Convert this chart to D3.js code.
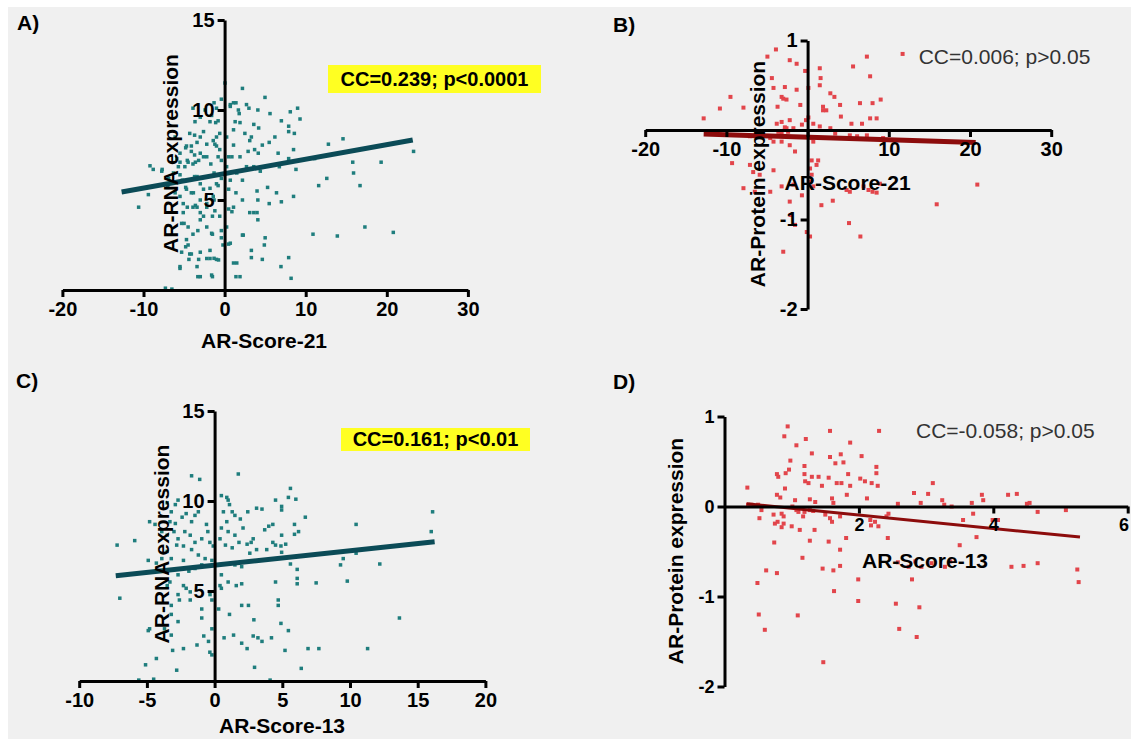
<!DOCTYPE html>
<html><head><meta charset="utf-8">
<script src="https://cdn.jsdelivr.net/npm/d3@7"></script>
<style>body{margin:0;background:#fff}svg{display:block}</style>
</head><body>
<svg id="c" width="1131" height="739"></svg>
<script>
// ---------- DATA ----------
// Panel A: AR-Score-21 vs AR-RNA expression
const pointsA = [
[0.05,11.5],[2.2,11.2],[1.1,10.4],[1.7,10.0],[2.7,10.3],[0.7,10.2],[-1.0,10.1],[-1.6,9.7],[-3.0,9.6],[-3.65,9.35],[-1.8,9.35],[-0.8,9.4],[1.3,9.35],[1.9,9.3],[3.6,9.2],[2.5,8.7],[3.3,8.5],[1.1,8.9],[0.25,8.5],[-1.0,8.5],[-1.4,8.3],[-1.2,8.1],[-1.0,8.0],[-0.6,7.8],[-2.2,8.1],[-3.0,8.5],[-3.4,8.2],[-4.3,8.7],[-4.7,8.0],[-4.1,7.7],[-3.0,7.6],[-2.2,7.4],[-3.2,7.2],[-3.6,7.1],[-4.5,7.1],[-4.9,6.85],[-5.5,7.1],[-5.9,7.3],[-9.2,6.9],[-8.8,6.7],[-7.75,6.6],[-6.9,6.2],[-9.4,5.3],[-10.6,4.6],[-5.5,6.4],[-4.3,6.1],[-3.4,6.3],[-3.0,5.9],[-2.6,5.6],[-3.85,5.4],[-4.7,5.6],[-5.5,5.2],[-5.1,4.8],[-3.6,4.7],[-3.4,4.6],[-2.2,4.8],[-1.2,4.4],[-0.6,4.1],[-1.4,5.2],[-1.8,5.65],[-1.0,5.9],[-0.4,6.2],[-5.1,4.3],[-5.3,3.7],[-4.5,3.5],[-3.0,3.9],[-2.2,3.5],[-1.6,3.15],[-4.7,2.8],[-4.5,2.5],[-5.3,2.1],[-4.3,2.0],[-4.1,2.0],[-3.0,2.1],[-1.8,2.2],[-1.0,1.7],[-5.5,1.2],[-3.4,1.3],[-3.2,1.7],[-2.2,1.75],[-1.8,1.75],[-3.0,0.74],[-1.6,0.83],[0.5,2.55],[0.7,2.6],[0.25,3.5],[0.9,4.35],[1.5,1.5],[1.9,0.74],[2.3,3.05],[1.1,4.6],[0.7,6.1],[1.5,6.5],[2.7,6.85],[3.6,6.85],[0.9,7.4],[1.9,7.4],[2.9,7.7],[3.7,7.8],[1.1,8.05],[0.5,7.4],[0.25,6.85],
[4.98,10.7],[9.0,10.1],[9.3,9.5],[14.6,8.4],[23.3,7.7],[19.3,7.1],[15.8,7.1],[15.9,6.5],[16.7,5.8],[11.6,5.8],[12.6,6.2],[12.8,8.1],[17.3,3.5],[20.8,3.2],[10.9,3.1],[13.9,3.0],[8.2,0.65],[6.95,1.3],[7.9,1.8],[4.65,1.7],[4.9,2.5],[5.0,2.9],[8.8,6.7],[8.5,5.2],[7.0,4.9],[5.5,4.8],[6.4,5.4],[5.3,5.7],[4.1,5.0],[4.0,4.3],[4.1,3.9],[6.6,7.6],[5.5,8.2],[7.9,9.1],[7.9,8.8],[7.0,9.4],[8.1,9.9],[5.6,9.8],[4.1,10.0],[4.65,8.05],[6.2,8.5],[8.5,7.8],[8.6,8.7],[6.75,6.85],[7.9,7.3],[4.15,7.6],[4.0,5.5],[4.4,6.6],[3.3,2.2],[3.3,1.8],[3.6,4.3],[3.1,4.3],[2.2,5.0],[1.4,5.4],[0.5,5.6],[0.5,4.5],[2.2,6.1],[11.1,7.3],[3.1,8.3],[4.2,9.0],[3.0,10.1],[1.8,9.8],[1.4,10.4],[0.7,10.3],[-0.4,10.6],[-1.3,10.4],[-3.9,10.1],[-2.4,10.0],[-1.1,9.3],[-0.6,8.7],[-2.6,8.8],[-3.7,8.6],[-5.5,7.6],[-4.8,7.9],[-4.1,8.0],[-3.7,7.5],[-2.6,7.4],[-1.7,7.0],[-0.8,7.4],[-0.4,7.2],[-3.9,7.0],[-4.6,7.2],[-5.7,6.85],[-6.3,6.5],[-7.0,5.7],[-6.1,5.4],[-5.2,6.1],[-3.7,6.3],[-4.1,5.4],[-4.8,5.7],[-1.3,6.5],[-0.8,5.8],[-1.3,5.0],[-1.5,4.1],[-2.2,4.6],[-3.0,5.0],[-3.9,4.6],[-3.0,4.3],[-3.3,3.3],[-3.9,3.1],[-2.6,4.1],[-4.6,4.6],[-5.0,3.7],[-0.4,2.9],[-0.2,2.5],[-0.4,3.3],[-1.5,3.1],[-5.5,1.3],[-4.8,2.4],[-4.4,1.7],[-3.3,0.74],[-1.5,0.74],[-1.3,1.76],[-0.75,1.67],[1.1,1.5],[1.4,0.74],[2.2,3.05],[-7.7,6.7],[-6.1,8.5],[-7.3,0.1],[-6.5,0.05]
];
const regA = [[-12.7,5.44],[23.2,8.33]];

// Panel B: AR-Score-21 vs AR-Protein expression
const pointsB = [
[-3.9,0.9],[-4.95,0.82],[-2.2,0.78],[-1.35,0.74],[1.5,0.69],[-0.3,0.66],[5.6,0.71],[7.3,0.82],[11.7,0.85],[-4.4,0.58],[-2.8,0.48],[-4.2,0.47],[-1.35,0.45],[0.1,0.47],[1.5,0.5],[1.6,0.58],[7.7,0.6],[2.8,0.41],[3.3,0.37],[-3.2,0.37],[-3.0,0.35],[-2.6,0.34],[-3.7,0.26],[-0.9,0.28],[1.9,0.26],[2.3,0.22],[1.9,0.22],[4.0,0.28],[6.45,0.3],[8.0,0.3],[9.0,0.34],[-9.5,0.37],[-10.8,0.24],[-7.9,0.25],[-12.8,0.13],[4.1,0.15],[0.1,0.14],[-0.2,0.11],[-2.2,0.11],[-3.2,0.09],[-3.8,0.07],[-2.8,0.03],[-2.6,0.02],[-2.8,0.0],[-2.4,-0.02],[-3.6,-0.02],[-3.2,-0.04],[-1.75,0.02],[-0.7,0.06],[0.7,0.07],[1.5,0.04],[2.8,0.02],[3.4,-0.04],[5.4,0.07],[6.7,0.07],[7.7,0.13],[8.5,0.13],[5.2,-0.06],[6.1,-0.07],[7.3,-0.06],[9.3,-0.09],[-7.1,-0.07],[-5.9,-0.06],[-4.6,-0.09],[-4.2,-0.13],[-3.2,-0.13],[-2.2,-0.17],[0.5,-0.09],[0.7,-0.13],[-9.3,-0.37],[-7.1,-0.39],[-6.7,-0.47],[-5.9,-0.5],[-4.2,-0.45],[-1.55,-0.24],[0.5,-0.34],[1.3,-0.34],[1.1,-0.39],[0.3,-0.43],[0.5,-0.5],[-7.9,-0.65],[-6.5,-0.69],[-4.6,-0.69],[-3.2,-0.63],[-1.75,-0.61],[-0.7,-0.73],[0.3,-0.58],[0.7,-0.63],[1.7,-0.84],[3.1,-0.79],[4.8,-0.67],[5.2,-0.69],[6.9,-0.63],[7.5,-0.67],[8.0,-0.69],[-2.1,-0.95],[-1.55,-1.06],[-0.1,-1.14],[0.3,-1.19],[5.1,-1.04],[6.5,-1.19],[-3.0,-1.36],[-2.2,-0.8],[20.9,-0.61],[15.9,-0.83],[8.9,-0.6],[8.5,-0.7]
];
const regB = [[-12.8,-0.045],[20.7,-0.14]];

// Panel C: AR-Score-13 vs AR-RNA expression
const pointsC = [
[-1.7,11.4],[-1.1,11.2],[1.75,11.5],[-7.2,7.55],[-5.9,7.8],[-7.0,4.6],[-4.8,8.85],[-4.4,8.7],[-3.5,9.9],[-2.9,9.8],[-2.7,10.05],[-3.2,9.4],[-2.4,9.1],[-2.1,9.3],[-1.7,8.85],[-1.45,9.2],[-1.2,9.4],[-3.3,8.85],[-2.9,8.75],[-3.9,8.3],[-3.5,8.1],[-3.0,8.3],[-2.7,7.9],[-2.2,8.3],[-1.8,8.1],[-1.45,7.7],[-0.95,7.9],[-0.5,8.3],[-0.6,8.7],[-0.35,7.7],[-0.1,7.5],[-2.8,7.55],[-2.3,7.5],[-1.7,7.3],[-1.2,7.0],[-0.7,6.8],[-0.2,6.7],[-3.5,7.2],[-3.2,6.8],[-2.3,6.7],[-4.9,6.7],[-4.3,6.55],[-3.9,6.8],[-1.9,6.1],[-1.45,6.25],[-0.95,6.45],[-2.7,5.9],[-3.3,5.5],[-3.5,5.3],[-2.3,5.3],[-2.1,5.15],[-2.7,4.8],[-1.8,4.95],[-2.6,4.5],[-3.2,4.2],[-0.34,4.8],[-0.2,4.5],[-0.95,4.0],[-1.8,4.5],[-3.2,3.7],[-2.7,3.3],[-4.8,2.9],[-4.9,2.8],[-3.7,2.9],[-3.2,2.55],[-2.3,1.8],[-3.1,1.7],[-1.3,2.0],[-0.8,2.5],[-0.35,1.6],[-0.2,1.45],[-0.45,2.2],[-4.3,1.25],[-2.8,0.6],[-5.1,0.9],[-0.2,2.9],[-0.95,3.5],[0.5,10.3],[0.9,10.2],[1.0,10.05],[1.1,9.8],[1.3,9.4],[1.5,9.2],[0.65,9.4],[0.9,8.85],[0.5,8.5],[1.0,8.3],[1.5,8.1],[1.9,9.0],[2.1,8.5],[0.4,7.9],[0.8,7.55],[1.3,7.4],[1.8,7.7],[1.5,6.45],[2.0,6.35],[0.5,5.9],[1.0,5.5],[1.6,5.3],[2.0,5.4],[0.4,5.3],[0.5,5.15],[1.1,3.7],[2.0,4.2],[1.4,2.55],[2.0,2.1],[2.4,1.8],[0.3,4.0],[0.7,2.4],
[5.6,10.7],[5.45,10.2],[6.0,10.1],[4.5,10.05],[4.95,9.7],[4.95,9.5],[3.1,9.6],[3.5,9.55],[2.45,9.4],[6.7,9.1],[4.0,8.6],[4.3,8.7],[3.7,8.4],[5.9,8.7],[6.2,8.3],[5.9,8.15],[4.95,8.1],[2.85,7.9],[2.7,7.7],[2.4,7.6],[4.3,7.7],[4.5,7.55],[4.9,7.5],[5.25,7.6],[3.85,7.3],[3.1,7.3],[2.6,7.1],[4.95,7.15],[10.45,8.7],[5.6,6.5],[6.1,6.2],[6.1,5.7],[6.1,5.4],[4.5,5.5],[7.5,5.45],[9.5,6.8],[9.3,6.45],[9.8,5.55],[12.2,6.5],[2.5,4.2],[4.7,4.5],[4.7,4.2],[2.9,3.4],[4.9,3.2],[5.45,2.8],[2.85,2.5],[3.2,2.4],[3.5,2.2],[4.2,2.4],[5.2,1.7],[6.9,1.8],[7.7,1.8],[11.3,1.8],[13.65,3.5],[2.95,0.76],[6.4,0.7],[4.1,0.05],[16.1,9.4],[16.0,8.3],[10.45,7.1],[-5.6,0.05],[-4.5,0.1]
];
const regC = [[-7.3,5.85],[16.25,7.74]];

// Panel D: AR-Score-13 vs AR-Protein expression
const pointsD = [
[0.94,0.89],[0.89,0.78],[1.57,0.84],[2.3,0.84],[1.21,0.75],[1.07,0.68],[1.87,0.71],[1.3,0.59],[1.57,0.55],[1.73,0.58],[1.77,0.49],[2.04,0.56],[0.98,0.51],[1.65,0.48],[1.19,0.45],[2.26,0.44],[0.96,0.41],[0.91,0.37],[0.78,0.36],[0.8,0.33],[1.19,0.36],[1.3,0.33],[1.4,0.33],[1.55,0.32],[1.84,0.36],[2.26,0.37],[1.2,0.28],[1.25,0.26],[1.45,0.23],[1.67,0.26],[1.74,0.26],[1.87,0.23],[2.02,0.31],[2.09,0.28],[2.19,0.26],[2.28,0.23],[0.34,0.21],[0.9,0.2],[3.1,0.26],[1.82,0.13],[2.12,0.09],[2.82,0.15],[3.03,0.14],[0.78,0.13],[0.83,0.1],[1.05,0.07],[1.27,0.08],[1.35,0.05],[1.6,0.09],[1.62,0.04],[4.22,0.13],[4.35,0.14],[3.83,0.13],[3.85,0.07],[3.24,0.07],[3.27,0.02],[2.92,0.04],[2.58,0.03],[3.38,0.0],[3.68,0.04],[4.54,0.04],[4.66,-0.06],[0.35,0.02],[0.4,0.02],[0.5,0.02],[0.55,-0.04],[0.52,-0.13],[0.73,-0.09],[0.85,-0.08],[0.88,-0.11],[0.75,-0.19],[0.79,-0.17],[0.88,-0.19],[1.01,0.0],[1.07,-0.04],[1.1,-0.06],[1.19,-0.06],[1.27,-0.04],[1.32,-0.05],[1.17,-0.11],[1.0,-0.22],[1.12,-0.26],[1.34,-0.26],[0.85,-0.23],[1.5,-0.09],[1.57,-0.13],[1.6,-0.17],[1.72,-0.11],[1.27,-0.38],[0.74,-0.4],[1.55,-0.39],[1.81,-0.35],[1.72,-0.48],[2.17,-0.15],[2.24,-0.17],[2.18,-0.21],[2.29,-0.22],[2.41,-0.11],[2.44,-0.08],[2.43,-0.35],[3.55,-0.15],[3.7,-0.08],[3.99,-0.15],[4.07,-0.15],[3.75,-0.34],[3.5,-0.43],[1.16,-0.57],[0.62,-0.71],[0.78,-0.74],[0.49,-0.85],[1.46,-0.69],[1.62,-0.71],[1.72,-0.66],[1.99,-0.81],[1.63,-0.94],[2.79,-0.81],[2.58,-0.62],[2.74,-0.67],[2.84,-0.61],[2.93,-0.67],[3.08,-0.63],[3.28,-0.67],[3.36,-0.61],[2.55,-1.08],[2.9,-1.12],[1.99,-1.05],[0.51,-1.2],[1.09,-1.21],[0.6,-1.37],[2.6,-1.36],[2.86,-1.45],[4.27,-0.67],[4.45,-0.66],[4.66,-0.63],[1.47,-1.73],[5.25,-0.7],[5.27,-0.84],[5.08,-0.04],[4.5,0.03]
];
const regD = [[0.33,0.03],[5.29,-0.34]];

// Ticks and labels
const ticksA_x = [-20,-10,0,10,20,30], ticksA_y = [5,10,15];
const ticksB_x = [-20,-10,0,10,20,30], ticksB_y = [-2,-1,0,1];
const ticksC_x = [-10,-5,0,5,10,15,20], ticksC_y = [5,10,15];
const ticksD_x = [2,4,6], ticksD_y = [-2,-1,0,1];
const panelLetters = ["A)","B)","C)","D)"];
const xTitles = ["AR-Score-21","AR-Score-21","AR-Score-13","AR-Score-13"];
const yTitles = ["AR-RNA expression","AR-Protein expression","AR-RNA expression","AR-Protein expression"];
const ccTexts = ["CC=0.239; p<0.0001","CC=0.006; p>0.05","CC=0.161; p<0.01","CC=-0.058; p>0.05"];

// ---------- DRAW ----------
const FONT = "'Liberation Sans', Arial, Helvetica, sans-serif";
const svg = d3.select('#c');
svg.append('rect').attr('x',8).attr('y',7).attr('width',1123).attr('height',732).attr('fill','#f0f0f0');

function panel(o){
  const g = svg.append('g');
  const x = d3.scaleLinear().domain(o.xDomain).range(o.xRange);
  const y = d3.scaleLinear().domain(o.yDomain).range(o.yRange);
  g.selectAll('rect.pt').data(o.points).join('rect').attr('class','pt')
    .attr('x', d => x(d[0]) - o.ps/2).attr('y', d => y(d[1]) - o.ps/2)
    .attr('width', o.ps).attr('height', o.ps).attr('fill', o.pc);
  g.append('line').attr('x1', x(o.reg[0][0])).attr('y1', y(o.reg[0][1]))
    .attr('x2', x(o.reg[1][0])).attr('y2', y(o.reg[1][1]))
    .attr('stroke', o.rc).attr('stroke-width', o.rw);
  const xa = g.append('g').attr('transform', `translate(0,${y(0)})`)
    .call(d3.axisBottom(x).tickValues(o.xTicks).tickSize(7).tickSizeOuter(0).tickPadding(5)
      .tickFormat(d => (o.xHide.includes(d) ? '' : d)));
  const ya = g.append('g').attr('transform', `translate(${x(0)},0)`)
    .call(d3.axisLeft(y).tickValues(o.yTicks).tickSize(7).tickSizeOuter(0).tickPadding(3)
      .tickFormat(d => (o.yHide.includes(d) ? '' : d)));
  [xa, ya].forEach(a => {
    a.select('.domain').attr('stroke', '#000').attr('stroke-width', 3);
    a.selectAll('.tick line').attr('stroke', '#000').attr('stroke-width', 3);
    a.selectAll('.tick text').attr('fill', '#000').style('font-family', FONT)
      .style('font-weight', 'bold').style('font-size', o.tf + 'px');
  });
  if (o.lastXLabelEnd) {
    // keep the last x tick label inside the picture
    xa.selectAll('.tick text').filter(d => d === o.xTicks[o.xTicks.length-1])
      .attr('text-anchor', 'end').attr('dx', '0.05em');
  }
  // titles
  g.append('text').attr('x', o.xt[0]).attr('y', o.xt[1]).attr('text-anchor', 'middle')
    .style('font-family', FONT).style('font-weight', 'bold').style('font-size', '21px').attr('fill', '#000')
    .text(o.xTitle);
  g.append('text').attr('transform', `translate(${o.yt[0]},${o.yt[1]}) rotate(-90)`).attr('text-anchor', 'middle')
    .style('font-family', FONT).style('font-weight', 'bold').style('font-size', '21px').attr('fill', '#000')
    .text(o.yTitle);
  g.append('text').attr('x', o.lt[0]).attr('y', o.lt[1])
    .style('font-family', FONT).style('font-weight', 'bold').style('font-size', '21px').attr('fill', '#000')
    .text(o.letter);
  if (o.box) {
    g.append('rect').attr('x', o.box[0]).attr('y', o.box[1]).attr('width', o.box[2]).attr('height', o.box[3]).attr('fill', '#ffff22');
    g.append('text').attr('x', o.box[0] + o.box[2]/2).attr('y', o.cc[1]).attr('text-anchor', 'middle')
      .style('font-family', FONT).style('font-weight', 'bold').style('font-size', '20px').attr('fill', '#000')
      .text(o.ccText);
  } else {
    g.append('text').attr('x', o.cc[0]).attr('y', o.cc[1])
      .style('font-family', FONT).style('font-size', '21px').attr('fill', '#333')
      .text(o.ccText);
  }
}

const teal = '#1f7d7d', tealLine = '#0b4b57', red = '#e2454b', redLine = '#8c0c0c';

panel({points: pointsA, reg: regA, xDomain: [-20,30], xRange: [62.4,467.9], yDomain: [0,15], yRange: [290,20],
  xTicks: ticksA_x, yTicks: ticksA_y, xHide: [], yHide: [], tf: 20, ps: 3.5, pc: teal, rc: tealLine, rw: 5,
  xt: [264,348], yt: [178,153.5], lt: [17,30], letter: panelLetters[0], xTitle: xTitles[0], yTitle: yTitles[0],
  box: [328,65,213,28], cc: [0,86], ccText: ccTexts[0]});
panel({points: pointsB, reg: regB, xDomain: [-20,30], xRange: [645.2,1051.2], yDomain: [-2,1], yRange: [309,40.5],
  xTicks: ticksB_x, yTicks: ticksB_y, xHide: [0], yHide: [0], tf: 20, ps: 4, pc: red, rc: redLine, rw: 5,
  xt: [847.6,190], yt: [764.5,174], lt: [613,32], letter: panelLetters[1], xTitle: xTitles[1], yTitle: yTitles[1],
  box: null, cc: [918.7,64], ccText: ccTexts[1]});
panel({points: pointsC, reg: regC, xDomain: [-10,20], xRange: [79.2,485.4], yDomain: [0,15], yRange: [681,411],
  xTicks: ticksC_x, yTicks: ticksC_y, xHide: [], yHide: [], tf: 20, ps: 3.5, pc: teal, rc: tealLine, rw: 5,
  xt: [282,733], yt: [169,544], lt: [16,388], letter: panelLetters[2], xTitle: xTitles[2], yTitle: yTitles[2],
  box: [341,428,189,23], cc: [0,446], ccText: ccTexts[2]});
panel({points: pointsD, reg: regD, xDomain: [0,6], xRange: [724.5,1127.7], yDomain: [-2,1], yRange: [686.5,416.5],
  xTicks: ticksD_x, yTicks: ticksD_y, xHide: [], yHide: [], tf: 18, ps: 4, pc: red, rc: redLine, rw: 3,
  xt: [925,568], yt: [683,551], lt: [613,389], letter: panelLetters[3], xTitle: xTitles[3], yTitle: yTitles[3],
  box: null, cc: [916,438], ccText: ccTexts[3], lastXLabelEnd: true});
</script>
</body></html>
